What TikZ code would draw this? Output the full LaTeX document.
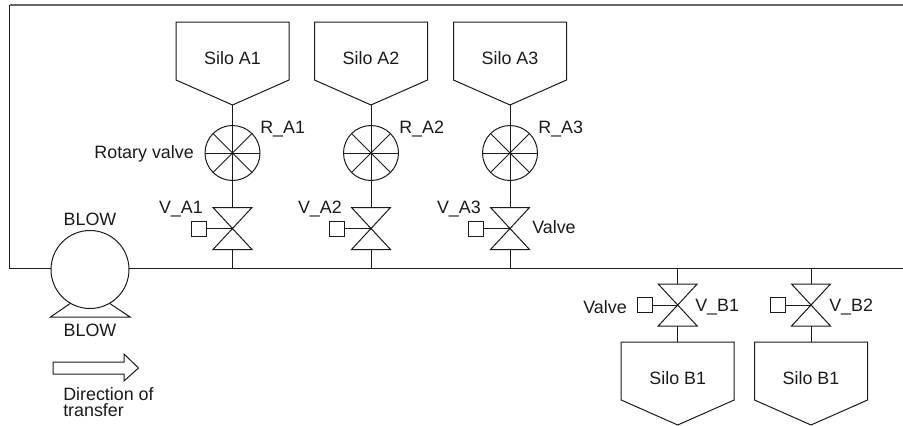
\documentclass[tikz,border=0pt]{standalone}
\usepackage{fontspec}
\setmainfont{Liberation Sans}
\definecolor{ink}{HTML}{1A1A1A}
\definecolor{topline}{HTML}{666666}
\tikzset{
  line/.style={draw=ink,line width=0.75pt,line join=miter},
  lbl/.style={inner sep=0pt,text=ink,font=\fontsize{13.4}{12.4}\selectfont},
  rotor/.style={circle,draw=ink,line width=0.75pt,minimum size=41.25pt,inner sep=0pt,outer sep=0pt},
  blower/.style={circle,draw=ink,line width=0.75pt,minimum size=58.5pt,inner sep=0pt,outer sep=0pt},
  actbox/.style={rectangle,draw=ink,line width=0.75pt,minimum size=11.25pt,inner sep=0pt,outer sep=0pt},
}
% silo: #1 name, #2 centre x, #3 top y, #4 text
\newcommand{\silo}[4]{
  \draw[line] (#2-56.5,#3) -- (#2+56.5,#3) -- (#2+56.5,#3+58) -- (#2,#3+83) -- (#2-56.5,#3+58) -- cycle;
  \coordinate (#1top) at (#2,#3);
  \coordinate (#1tip) at (#2,#3+83);
  \node[lbl] (#1lab) at (#2,#3+36) {#4};
}
% valve: #1 name, #2 centre x, #3 centre y, #4 actuator centre x
\newcommand{\valve}[4]{
  \coordinate (#1) at (#2,#3);
  \coordinate (#1top) at (#2,#3-21);
  \coordinate (#1bot) at (#2,#3+21);
  \draw[line] (#2-19.5,#3-21) -- (#2+19.5,#3-21) -- (#2-19.5,#3+21) -- (#2+19.5,#3+21) -- cycle;
  \node[actbox] (#1act) at (#4,#3) {};
  \draw[line] (#1act) -- (#1);
}
% rotary valve: #1 name, #2 x, #3 y
\newcommand{\rotary}[3]{
  \node[rotor] (#1) at (#2,#3) {};
  \draw[line] (#1.north) -- (#1.south);
  \draw[line] (#1.west) -- (#1.east);
  \draw[line] (#1.north west) -- (#1.south east);
  \draw[line] (#1.north east) -- (#1.south west);
}
\begin{document}
\begin{tikzpicture}[x=0.75pt,y=-0.75pt]
\useasboundingbox (0,0) rectangle (903,425);
% pipe frame
\coordinate (tr) at (903,5);
\coordinate (tl) at (9.5,5);
\coordinate (bl) at (9.5,268);
\coordinate (br) at (903,268);
\node[blower] (blow) at (90,269.5) {};
\draw[line] (tl) -- (bl) -- (blow.west |- bl);
\draw[draw=topline,line width=1.4pt] (tr) -- (tl);
\draw[line] (blow.east |- br) -- (br);
% blower base
\draw[line] (blow.240) -- (50.5,317) -- (130,317) -- (blow.300);
\node[lbl] (blowt) at (90,219) {BLOW};
\node[lbl] (blowb) at (90,330) {BLOW};
% A line
\silo{sa1}{232.5}{22}{Silo A1}
\silo{sa2}{371}{22}{Silo A2}
\silo{sa3}{510}{22}{Silo A3}
\rotary{ra1}{232.5}{153}
\rotary{ra2}{371}{153}
\rotary{ra3}{510}{153}
\valve{va1}{232.5}{228.5}{198.5}
\valve{va2}{371}{228.5}{337}
\valve{va3}{510}{228.5}{476}
\foreach \n in {1,2,3}{
  \draw[line] (sa\n tip) -- (ra\n.north);
  \draw[line] (ra\n.south) -- (va\n top);
  \coordinate (ja\n) at (va\n bot |- br);
  \draw[line] (va\n bot) -- (ja\n);
}
\node[lbl,anchor=west] (lr1) at (260,129) {R\_A1};
\node[lbl,anchor=west] (lr2) at (399,129) {R\_A2};
\node[lbl,anchor=west] (lr3) at (538,129) {R\_A3};
\node[lbl,anchor=east] (lrv) at (194,154) {Rotary valve};
\node[lbl,anchor=east] (lv1) at (203,209) {V\_A1};
\node[lbl,anchor=east] (lv2) at (342,209) {V\_A2};
\node[lbl,anchor=east] (lv3) at (481,209) {V\_A3};
\node[lbl,anchor=west] (lvv) at (532,227) {Valve};
% B line
\valve{vb1}{677.7}{305}{644.5}
\valve{vb2}{811}{305}{778}
\silo{sb1}{677.7}{342}{Silo B1}
\silo{sb2}{811}{342}{Silo B1}
\foreach \n in {1,2}{
  \coordinate (jb\n) at (vb\n top |- br);
  \draw[line] (jb\n) -- (vb\n top);
  \draw[line] (vb\n bot) -- (sb\n top);
}
\node[lbl,anchor=east] (lvb) at (627,307) {Valve};
\node[lbl,anchor=west] (lb1) at (695,307) {V\_B1};
\node[lbl,anchor=west] (lb2) at (829,307) {V\_B2};
% direction arrow
\draw[line] (53,362) -- (124,362) -- (124,354) -- (138.5,368) -- (124,381) -- (124,374) -- (53,374) -- cycle;
\node[lbl,anchor=north west,align=left] (ldir) at (63,387) {Direction of\\transfer};
\end{tikzpicture}
\end{document}
